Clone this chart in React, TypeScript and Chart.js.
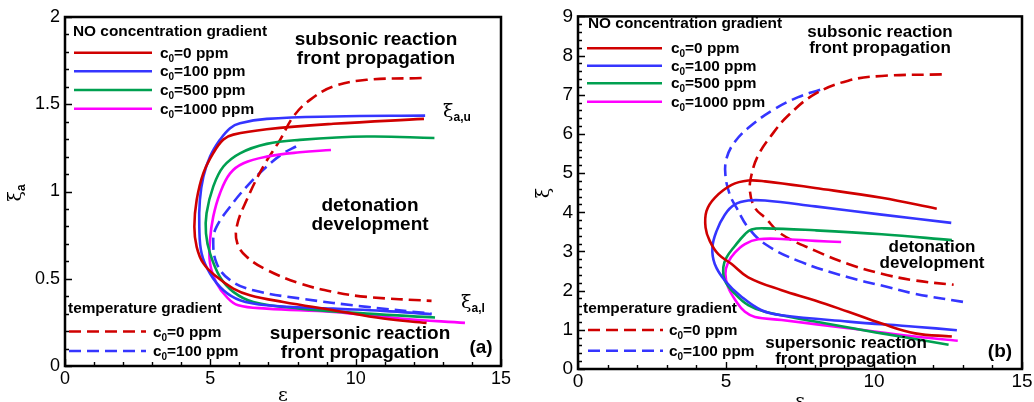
import React, { useEffect, useRef } from 'react';
import { Chart, registerables } from 'chart.js';
Chart.register(...registerables);

type P = [number, number];

// ---------- Panel (a): epsilon vs xi_a ----------
const aYTicks = [0, 0.5, 1, 1.5, 2];
const xTicks = [0, 5, 10, 15];
const aNO0: P[] = [[12.35,1.416],[9.23,1.388],[6.94,1.357],[5.79,1.326],[5.45,1.298],[5.1,1.22],[4.76,1.105],[4.53,0.951],[4.45,0.798],[4.53,0.683],[4.76,0.588],[5.22,0.511],[5.79,0.444],[6.36,0.406],[7.51,0.367],[9.23,0.32],[10.95,0.272],[12.44,0.247]];
const aNO100: P[] = [[12.39,1.435],[9.23,1.43],[6.94,1.416],[6.02,1.391],[5.68,1.363],[5.33,1.296],[4.99,1.2],[4.76,1.085],[4.64,0.951],[4.62,0.798],[4.7,0.645],[4.99,0.53],[5.45,0.434],[6.02,0.377],[6.94,0.348],[9.23,0.329],[10.95,0.316],[12.61,0.297]];
const aNO500: P[] = [[12.71,1.307],[10.38,1.315],[8.08,1.296],[6.94,1.273],[6.02,1.219],[5.45,1.143],[5.1,1.028],[4.87,0.875],[4.85,0.76],[4.99,0.645],[5.33,0.511],[5.79,0.425],[6.48,0.367],[8.08,0.329],[10.38,0.3],[12.73,0.278]];
const aNO1000: P[] = [[9.15,1.238],[8.08,1.225],[6.94,1.2],[6.14,1.162],[5.68,1.104],[5.33,0.989],[5.1,0.856],[4.99,0.722],[4.99,0.588],[5.22,0.473],[5.56,0.396],[5.96,0.348],[6.94,0.329],[9.23,0.31],[11.53,0.272],[13.76,0.247]];
const aT0: P[] = [[12.27,1.65],[10.38,1.64],[9.23,1.602],[8.43,1.525],[7.86,1.43],[7.4,1.296],[6.82,1.143],[6.25,0.951],[5.91,0.8],[5.93,0.702],[6.25,0.626],[6.94,0.551],[8.08,0.473],[9.23,0.425],[10.38,0.396],[12.61,0.373]];
const aT100: P[] = [[7.95,1.258],[7.51,1.219],[6.94,1.143],[6.25,1.028],[5.68,0.913],[5.22,0.8],[5.1,0.722],[5.22,0.588],[5.68,0.492],[6.48,0.434],[8.08,0.387],[10.38,0.339],[12.61,0.3]];

// ---------- Panel (b): epsilon vs xi ----------
const bYTicks = [0, 1, 2, 3, 4, 5, 6, 7, 8, 9];
const bNO0: P[] = [[12.12,4.09],[10.26,4.37],[8.01,4.62],[6.32,4.79],[5.75,4.81],[5.19,4.7],[4.62,4.37],[4.34,4.03],[4.31,3.61],[4.45,3.27],[4.74,2.93],[5.19,2.68],[5.75,2.34],[6.88,2.01],[8.01,1.75],[9.13,1.46],[10.26,1.16],[11.39,0.91],[12.63,0.83]];
const bNO100: P[] = [[12.61,3.73],[10.26,3.94],[8.01,4.15],[6.32,4.3],[5.75,4.3],[5.3,4.2],[4.96,3.94],[4.68,3.52],[4.54,3.1],[4.62,2.68],[4.96,2.26],[5.53,1.84],[6.2,1.5],[6.88,1.37],[9.13,1.21],[11.39,1.08],[12.8,0.99]];
const bNO500: P[] = [[12.63,3.29],[10.26,3.44],[8.01,3.54],[6.32,3.59],[5.86,3.56],[5.64,3.44],[5.3,3.14],[5.02,2.85],[4.91,2.6],[4.96,2.26],[5.3,1.92],[5.75,1.63],[6.32,1.46],[8.01,1.21],[10.26,0.91],[12.52,0.62]];
const bNO1000: P[] = [[8.89,3.24],[8.01,3.27],[6.88,3.32],[6.09,3.31],[5.64,3.19],[5.3,2.97],[5.07,2.72],[4.98,2.43],[5.07,2.09],[5.36,1.71],[5.64,1.46],[5.98,1.33],[6.88,1.25],[9.13,1.04],[11.39,0.83],[12.83,0.72]];
const bT0: P[] = [[12.29,7.52],[10.26,7.48],[9.13,7.36],[8.01,7.02],[7.1,6.47],[6.54,5.97],[6.09,5.46],[5.86,4.95],[5.81,4.53],[5.98,4.11],[6.32,3.86],[6.88,3.44],[8.01,3.02],[9.13,2.68],[10.26,2.43],[11.39,2.26],[12.69,2.15]];
const bT100: P[] = [[8.18,7.13],[7.44,6.94],[6.65,6.64],[5.86,6.22],[5.3,5.8],[5.02,5.38],[4.98,4.95],[5.13,4.45],[5.36,4.11],[5.75,3.61],[6.32,3.19],[7.44,2.76],[9.13,2.34],[10.26,2.13],[11.39,1.92],[13.19,1.69]];

const noLabels = ['0', '100', '500', '1000'];
const tLabels = ['0', '100'];
const RED = '#d00000';
const BLUE = '#3535ff';
const GREEN = '#00a050';
const MAG = '#ff00ff';
const noColors = [RED, BLUE, GREEN, MAG];
const tColors = [RED, BLUE];

const SANS = '"Liberation Sans", Arial, sans-serif';
const SERIF = '"DejaVu Serif", "Liberation Serif", serif';

type Part = { t: string; size: number; bold?: boolean; dy?: number; family?: string };

function rich(ctx: CanvasRenderingContext2D, x: number, y: number, parts: Part[], align: 'left' | 'center' = 'left') {
  ctx.textBaseline = 'alphabetic';
  ctx.textAlign = 'left';
  const fontOf = (p: Part) => `${p.bold ? 'bold ' : ''}${p.size}px ${p.family || SANS}`;
  let w = 0;
  for (const p of parts) { ctx.font = fontOf(p); w += ctx.measureText(p.t).width; }
  let cx = align === 'center' ? x - w / 2 : x;
  for (const p of parts) {
    ctx.font = fontOf(p);
    ctx.fillText(p.t, cx, y + (p.dy || 0));
    cx += ctx.measureText(p.t).width;
  }
}

function cLabel(v: string, size: number): Part[] {
  return [
    { t: 'c', size, bold: true },
    { t: '0', size: Math.round(size * 0.62), bold: true, dy: 4 },
    { t: `=${v} ppm`, size, bold: true },
  ];
}

interface Deco {
  minorY: number;
  ytitleX: number; ytitleY: number; ytitleSub: string;
  xtitleX: number; xtitleY: number;
  legTitle: [number, number]; legLineX: [number, number]; legTextX: number; legRows: number[];
  tTitle: [number, number]; tLineX: [number, number]; tTextX: number; tRows: number[];
  notes: { t: string; x: number; y: number; size: number }[];
  xiLabels: { x: number; y: number; sub: string }[];
}

function makeDeco(d: Deco) {
  return {
    id: 'deco',
    afterDatasetsDraw(chart: any) {
      const { ctx, chartArea } = chart;
      const { left, right, top, bottom } = chartArea;
      const xs = chart.scales.x;
      const ys = chart.scales.y;
      ctx.save();
      // tick marks (inward)
      ctx.strokeStyle = '#000';
      ctx.lineWidth = 1.4;
      ctx.beginPath();
      for (let v = 0; v <= 15 + 1e-9; v += 1) {
        const px = Math.round(xs.getPixelForValue(v)) + 0.5;
        const len = Math.abs(v % 5) < 1e-6 ? 7 : 4;
        ctx.moveTo(px, bottom); ctx.lineTo(px, bottom - len);
      }
      const ymax = ys.max;
      for (let i = 0; i * d.minorY <= ymax + 1e-9; i++) {
        const v = i * d.minorY;
        const py = Math.round(ys.getPixelForValue(v)) + 0.5;
        const len = i % 5 === 0 ? 7 : 4;
        ctx.moveTo(left, py); ctx.lineTo(left + len, py);
      }
      ctx.stroke();
      // frame
      ctx.lineWidth = 2.5;
      ctx.strokeRect(left, top, right - left, bottom - top);

      ctx.fillStyle = '#000';
      // legend NO
      rich(ctx, d.legTitle[0], d.legTitle[1], [{ t: 'NO concentration gradient', size: 15.4, bold: true }]);
      ctx.lineWidth = 2.6;
      d.legRows.forEach((yy, i) => {
        ctx.strokeStyle = noColors[i];
        ctx.setLineDash([]);
        ctx.beginPath(); ctx.moveTo(d.legLineX[0], yy); ctx.lineTo(d.legLineX[1], yy); ctx.stroke();
        ctx.fillStyle = '#000';
        rich(ctx, d.legTextX, yy + 5, cLabel(noLabels[i], 15.4));
      });
      rich(ctx, d.tTitle[0], d.tTitle[1], [{ t: 'temperature gradient', size: 15.4, bold: true }]);
      d.tRows.forEach((yy, i) => {
        ctx.strokeStyle = tColors[i];
        ctx.setLineDash([12, 6]);
        ctx.beginPath(); ctx.moveTo(d.tLineX[0], yy); ctx.lineTo(d.tLineX[1], yy); ctx.stroke();
        ctx.setLineDash([]);
        ctx.fillStyle = '#000';
        rich(ctx, d.tTextX, yy + 5, cLabel(tLabels[i], 15.4));
      });
      // notes
      ctx.fillStyle = '#000';
      for (const n of d.notes) rich(ctx, n.x, n.y, [{ t: n.t, size: n.size, bold: true }], 'center');
      for (const l of d.xiLabels) {
        rich(ctx, l.x, l.y, [
          { t: 'ξ', size: 19, family: SERIF },
          { t: l.sub, size: 12, bold: true, dy: 4 },
        ]);
      }
      // axis titles
      rich(ctx, d.xtitleX, d.xtitleY, [{ t: 'ε', size: 19, family: SERIF }], 'center');
      ctx.save();
      ctx.translate(d.ytitleX, d.ytitleY);
      ctx.rotate(-Math.PI / 2);
      const parts: Part[] = [{ t: 'ξ', size: 19, family: SERIF }];
      if (d.ytitleSub) parts.push({ t: d.ytitleSub, size: 12, bold: true, dy: 4 });
      rich(ctx, 0, 5, parts, 'center');
      ctx.restore();
      ctx.restore();
    },
  };
}

function ds(data: P[], color: string, dashed: boolean) {
  return {
    data: data.map(([x, y]) => ({ x, y })),
    borderColor: color,
    backgroundColor: color,
    borderWidth: 2.6,
    borderDash: dashed ? [12, 6] : [],
    showLine: true,
    pointRadius: 0,
    tension: 0.4,
    fill: false,
  };
}

function makeConfig(opts: {
  series: [P[], string, boolean][]; ymax: number; yTicks: number[];
  pad: { top: number; right: number }; yWidth: number; xHeight: number; tickSize: number;
  yPad: number; xPad: number; deco: Deco;
}) {
  return {
    type: 'scatter' as const,
    data: { datasets: opts.series.map(([d, c, dash]) => ds(d, c, dash)) },
    options: {
      animation: false,
      responsive: false,
      maintainAspectRatio: false,
      layout: { padding: { top: opts.pad.top, right: opts.pad.right, left: 0, bottom: 0 } },
      plugins: { legend: { display: false }, tooltip: { enabled: false } },
      scales: {
        x: {
          type: 'linear', min: 0, max: 15,
          afterBuildTicks: (s: any) => { s.ticks = xTicks.map((v) => ({ value: v })); },
          ticks: { font: { family: SANS, size: opts.tickSize }, color: '#000', padding: opts.xPad, maxRotation: 0, autoSkip: false, callback: (v: any) => String(v) },
          grid: { display: false, drawTicks: false },
          border: { display: false },
          afterFit: (s: any) => { s.height = opts.xHeight; },
        },
        y: {
          type: 'linear', min: 0, max: opts.ymax,
          afterBuildTicks: (s: any) => { s.ticks = opts.yTicks.map((v) => ({ value: v })); },
          ticks: { font: { family: SANS, size: opts.tickSize }, color: '#000', padding: opts.yPad, autoSkip: false, callback: (v: any) => String(v) },
          grid: { display: false, drawTicks: false },
          border: { display: false },
          afterFit: (s: any) => { s.width = opts.yWidth; },
        },
      },
    },
    plugins: [makeDeco(opts.deco)],
  };
}

function Panel({ cfg }: { cfg: any }) {
  const ref = useRef<HTMLCanvasElement>(null);
  useEffect(() => {
    const chart = new Chart(ref.current as HTMLCanvasElement, cfg);
    return () => chart.destroy();
  }, []);
  return <canvas ref={ref} width={517} height={402} style={{ width: 517, height: 402, display: 'block' }} />;
}

const cfgA = makeConfig({
  series: [[aNO0, RED, false], [aNO100, BLUE, false], [aNO500, GREEN, false], [aNO1000, MAG, false], [aT0, RED, true], [aT100, BLUE, true]],
  ymax: 2, yTicks: aYTicks,
  pad: { top: 17, right: 16 }, yWidth: 65, xHeight: 36, tickSize: 18, yPad: 5, xPad: 2,
  deco: {
    minorY: 0.1,
    ytitleX: 16, ytitleY: 193, ytitleSub: 'a',
    xtitleX: 283, xtitleY: 401,
    legTitle: [73, 36], legLineX: [74, 152], legTextX: 160, legRows: [52.7, 71.3, 90, 108.7],
    tTitle: [68, 312.7], tLineX: [69, 146], tTextX: 153, tRows: [331.5, 351],
    notes: [
      { t: 'subsonic reaction', x: 376, y: 45, size: 19 },
      { t: 'front propagation', x: 376, y: 64, size: 19 },
      { t: 'detonation', x: 370, y: 211, size: 19 },
      { t: 'development', x: 370, y: 230, size: 19 },
      { t: 'supersonic reaction', x: 360, y: 339, size: 19 },
      { t: 'front propagation', x: 360, y: 358, size: 19 },
      { t: '(a)', x: 481, y: 353, size: 19 },
    ],
    xiLabels: [{ x: 443, y: 117, sub: 'a,u' }, { x: 461, y: 308, sub: 'a,l' }],
  },
});

const cfgB = makeConfig({
  series: [[bNO0, RED, false], [bNO100, BLUE, false], [bNO500, GREEN, false], [bNO1000, MAG, false], [bT0, RED, true], [bT100, BLUE, true]],
  ymax: 9, yTicks: bYTicks,
  pad: { top: 13, right: 12 }, yWidth: 61, xHeight: 33, tickSize: 19, yPad: 5, xPad: 1,
  deco: {
    minorY: 0.2,
    ytitleX: 27, ytitleY: 193, ytitleSub: '',
    xtitleX: 283, xtitleY: 407,
    legTitle: [71, 28.3], legLineX: [70, 145], legTextX: 154, legRows: [48.3, 65.7, 83.3, 101.7],
    tTitle: [66, 313.3], tLineX: [71, 146], tTextX: 152, tRows: [330, 350.7],
    notes: [
      { t: 'subsonic reaction', x: 363, y: 37.3, size: 17 },
      { t: 'front propagation', x: 363, y: 53.3, size: 17 },
      { t: 'detonation', x: 415, y: 251.7, size: 17 },
      { t: 'development', x: 415, y: 268.3, size: 17 },
      { t: 'supersonic reaction', x: 329, y: 347.7, size: 17 },
      { t: 'front propagation', x: 329, y: 364.3, size: 17 },
      { t: '(b)', x: 483, y: 356.7, size: 19 },
    ],
    xiLabels: [],
  },
});

export default function App() {
  return (
    <div style={{ position: 'absolute', left: 0, top: 0, width: 1034, height: 402, display: 'flex', background: '#fff' }}>
      <Panel cfg={cfgA} />
      <Panel cfg={cfgB} />
    </div>
  );
}
